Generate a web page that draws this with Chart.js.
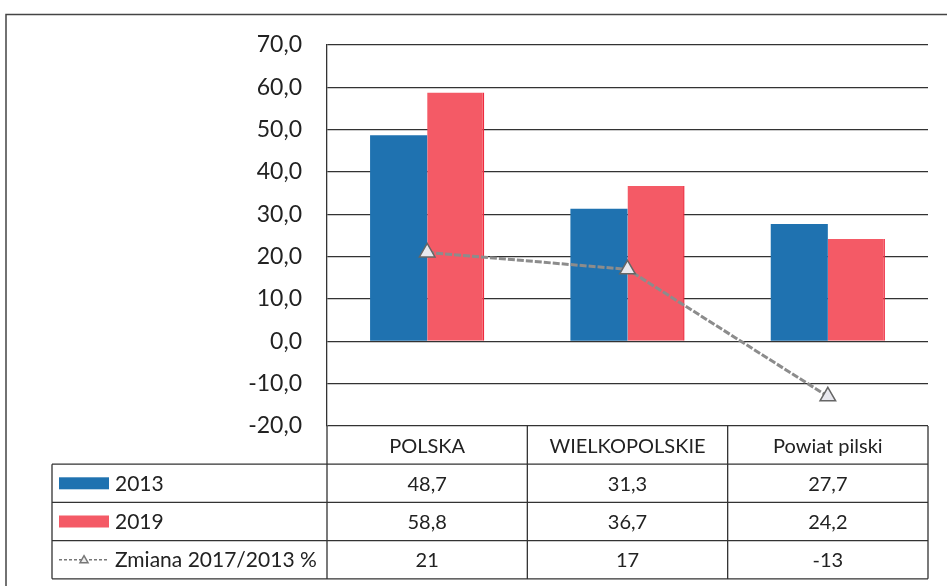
<!DOCTYPE html>
<html>
<head>
<meta charset="utf-8">
<script src="https://cdn.jsdelivr.net/npm/chart.js@4.4.1/dist/chart.umd.min.js"></script>
<style>
  html, body { margin: 0; padding: 0; background: #fff; }
  #wrap { width: 947px; height: 586px; position: relative; }
</style>
</head>
<body>
<div id="wrap"><canvas id="c" width="947" height="586"></canvas></div>
<script>
const categories = ['POLSKA', 'WIELKOPOLSKIE', 'Powiat pilski'];
const values2013 = [48.7, 31.3, 27.7];
const values2019 = [58.8, 36.7, 24.2];
const changePct = [21, 17, -13];
const seriesNames = ['2013', '2019', 'Zmiana 2017/2013 %'];
const yTicks = [-20, -10, 0, 10, 20, 30, 40, 50, 60, 70];

const FONT = 'Lato, "Open Sans", sans-serif';
const BLUE = '#1f72b0';
const RED = '#f45a66';

const fmt1 = v => v.toFixed(1).replace('.', ',');

const tablePlugin = {
  id: 'tablePlugin',
  afterDraw(chart) {
    const ctx = chart.ctx;
    const x = chart.scales.x;
    const area = chart.chartArea;
    const rowH = 38.2;
    const top = area.bottom;
    const half = (x.getPixelForValue(1) - x.getPixelForValue(0)) / 2;
    const colEdges = [];
    for (let i = 0; i < categories.length; i++) colEdges.push(x.getPixelForValue(i) - half);
    colEdges.push(x.getPixelForValue(categories.length - 1) + half);
    const legendLeft = 52;
    const bottom = top + rowH * 4;

    ctx.save();
    // outer frame
    ctx.strokeStyle = '#444';
    ctx.lineWidth = 1.5;
    ctx.beginPath();
    ctx.moveTo(6, 586); ctx.lineTo(6, 14.5); ctx.lineTo(947, 14.5);
    ctx.stroke();

    ctx.strokeStyle = '#333';
    ctx.lineWidth = 1.3;
    ctx.beginPath();
    for (let r = 1; r <= 4; r++) {
      const yy = top + rowH * r;
      ctx.moveTo(legendLeft, yy); ctx.lineTo(colEdges[colEdges.length - 1], yy);
    }
    colEdges.forEach(cx => { ctx.moveTo(cx, top); ctx.lineTo(cx, bottom); });
    ctx.moveTo(legendLeft, top + rowH); ctx.lineTo(legendLeft, bottom);
    ctx.stroke();

    ctx.fillStyle = '#222';
    ctx.font = '20px ' + FONT;
    ctx.textBaseline = 'middle';
    ctx.textAlign = 'center';
    categories.forEach((c, i) => ctx.fillText(c, x.getPixelForValue(i), top + rowH / 2 + 1));
    const rows = [values2013.map(fmt1), values2019.map(fmt1), changePct.map(v => String(v))];
    rows.forEach((vals, r) => {
      const yy = top + rowH * (r + 1.5) + 1;
      vals.forEach((v, i) => ctx.fillText(v, x.getPixelForValue(i), yy));
    });
    // legend keys
    ctx.textAlign = 'left';
    ctx.font = '21px ' + FONT;
    seriesNames.forEach((name, r) => {
      const yy = top + rowH * (r + 1.5);
      if (r === 0 || r === 1) {
        ctx.fillStyle = r === 0 ? BLUE : RED;
        ctx.fillRect(59, yy - 6, 50, 12);
      } else {
        ctx.strokeStyle = '#777';
        ctx.lineWidth = 1.5;
        ctx.setLineDash([3, 2]);
        ctx.beginPath(); ctx.moveTo(59, yy); ctx.lineTo(109, yy); ctx.stroke();
        ctx.setLineDash([]);
        ctx.fillStyle = '#eee';
        ctx.beginPath(); ctx.moveTo(84, yy - 4); ctx.lineTo(88, yy + 3); ctx.lineTo(80, yy + 3); ctx.closePath();
        ctx.fill(); ctx.stroke();
      }
      ctx.fillStyle = '#222';
      ctx.fillText(name, 115, yy + 1);
    });
    ctx.restore();
  }
};

function build() {
  new Chart(document.getElementById('c'), {
    type: 'bar',
    data: {
      labels: categories,
      datasets: [
        {
          type: 'line', label: seriesNames[2], data: changePct,
          borderColor: '#8c8c8c', borderWidth: 3, borderDash: [7, 2],
          pointStyle: 'triangle', pointRadius: 9, pointBorderWidth: 1.5,
          pointBackgroundColor: '#e8e8ee', pointBorderColor: '#666',
          fill: false, tension: 0, order: 0
        },
        { label: seriesNames[0], data: values2013, backgroundColor: BLUE, borderWidth: 0, order: 1 },
        { label: seriesNames[1], data: values2019, backgroundColor: RED, borderColor: '#ee2a3e', borderWidth: { left: 0, top: 0, right: 1.5, bottom: 0 }, order: 1 }
      ]
    },
    options: {
      responsive: false,
      animation: false,
      devicePixelRatio: 1,
      layout: { padding: { left: 0, top: 45, right: 19, bottom: 160 } },
      plugins: { legend: { display: false }, tooltip: { enabled: false } },
      datasets: { bar: { categoryPercentage: 0.57, barPercentage: 1.0 } },
      scales: {
        x: { display: false },
        y: {
          min: -20, max: 70,
          afterFit: s => { s.width = 327; },
          afterBuildTicks: s => { s.ticks = yTicks.map(v => ({ value: v })); },
          ticks: {
            callback: v => fmt1(v),
            font: { family: FONT, size: 23 },
            color: '#222',
            padding: 25
          },
          grid: { color: '#333', lineWidth: 1.2, drawTicks: false },
          border: { display: true, color: '#333', width: 1.3 }
        }
      }
    },
    plugins: [tablePlugin]
  });
}

if (document.fonts && document.fonts.load) {
  Promise.all([document.fonts.load('23px Lato'), document.fonts.load('20px Lato')]).then(build, build);
} else { build(); }
</script>
</body>
</html>
